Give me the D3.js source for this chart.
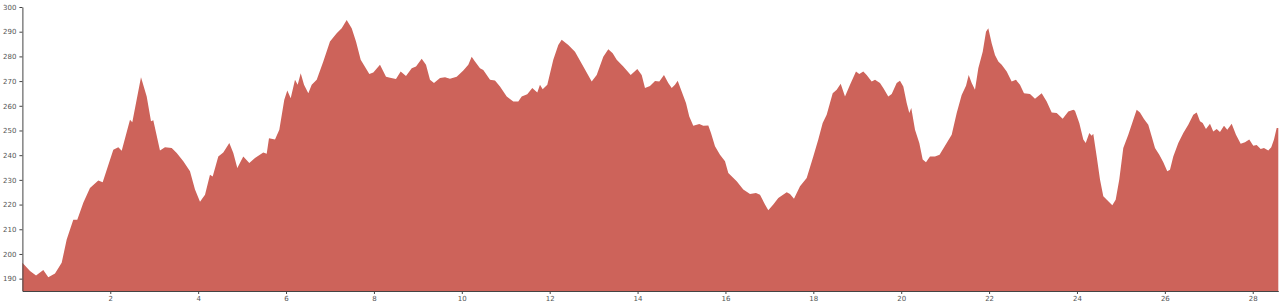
<!DOCTYPE html>
<html>
<head>
<meta charset="utf-8">
<script src="https://cdn.jsdelivr.net/npm/d3@7"></script>
<style>
  body { margin: 0; background: #fff; }
  .axis text { font-family: "DejaVu Sans", sans-serif; font-size: 7px; fill: #555; }
  .axis path, .axis line { stroke: #444; }
</style>
</head>
<body>
<div id="chart"></div>
<script>
// distance along route (x) and elevation (y)
var distance = [
  0, 0.173, 0.31, 0.476, 0.589, 0.742, 0.894, 1.008, 1.158, 1.249, 1.386, 1.538, 1.727, 1.827,
  2.069, 2.183, 2.26, 2.449, 2.501, 2.699, 2.829, 2.927, 2.979, 3.131, 3.245, 3.398, 3.512,
  3.662, 3.814, 3.928, 4.042, 4.156, 4.269, 4.331, 4.458, 4.572, 4.709,
  4.8, 4.891, 5.027, 5.164, 5.293, 5.482, 5.56, 5.612, 5.749, 5.847, 5.96, 6.029, 6.106,
  6.204, 6.265, 6.334, 6.409, 6.507, 6.584, 6.698, 6.848, 7.0, 7.153, 7.267, 7.38, 7.494,
  7.592, 7.699, 7.895, 7.986, 8.138, 8.275, 8.366, 8.502, 8.609, 8.73, 8.86, 8.958, 9.087,
  9.185, 9.276, 9.367, 9.504, 9.618,
  9.731, 9.884, 10.034, 10.148, 10.225, 10.3, 10.414, 10.489, 10.642, 10.755, 10.869, 11.022,
  11.172, 11.286, 11.363, 11.49, 11.604, 11.718, 11.779, 11.841, 11.946, 12.082, 12.196,
  12.273, 12.424, 12.576, 12.765, 12.956, 13.07, 13.22, 13.334, 13.434, 13.525, 13.675,
  13.844, 13.994, 14.094, 14.169, 14.283, 14.397,
  14.495, 14.601, 14.699, 14.777, 14.852, 14.913, 15.004, 15.102, 15.177, 15.268, 15.405,
  15.496, 15.61, 15.671, 15.762, 15.876, 15.99, 16.065, 16.256, 16.406, 16.559, 16.695,
  16.786, 16.9, 16.975, 17.089, 17.203, 17.394, 17.469, 17.56, 17.697, 17.849, 17.999,
  18.113, 18.213, 18.304, 18.441, 18.532, 18.623, 18.721, 18.835, 18.971, 19.046, 19.137,
  19.214, 19.328, 19.404, 19.517, 19.592, 19.706, 19.784, 19.897, 19.972, 20.048, 20.125,
  20.184, 20.229, 20.314, 20.412, 20.489, 20.564, 20.655, 20.769, 20.873, 21.035, 21.149,
  21.263, 21.376, 21.475, 21.536, 21.604, 21.679, 21.755, 21.855, 21.93, 21.982, 22.059,
  22.134, 22.21, 22.287, 22.401, 22.514, 22.612, 22.703, 22.794, 22.931, 23.045, 23.197,
  23.311, 23.425, 23.539, 23.675, 23.803, 23.917,
  23.955, 24.053, 24.144, 24.199, 24.281, 24.335, 24.371, 24.449, 24.524, 24.599, 24.713,
  24.804, 24.881, 24.963, 25.054, 25.168, 25.282, 25.359, 25.434, 25.525, 25.623, 25.701,
  25.776, 25.874, 25.965, 26.055, 26.117, 26.192, 26.306, 26.42, 26.533, 26.647, 26.725,
  26.8, 26.861, 26.936, 27.027, 27.102, 27.18, 27.255, 27.346, 27.421, 27.521, 27.619,
  27.726, 27.824, 27.921, 28.013, 28.09, 28.181, 28.256, 28.354, 28.422, 28.484, 28.545, 28.582
];

var elevation = [
  196.4, 193.1, 191.3, 193.5, 190.6, 192.1, 196.4, 205.9, 213.9, 213.9, 220.7, 226.7, 229.7, 229.0,
  242.2, 243.2, 241.8, 254.3, 253.3, 271.6, 263.8, 253.7, 254.1, 241.9, 243.2, 242.9, 240.9,
  237.5, 233.5, 226.1, 221.1, 224.0, 232.1, 231.4, 239.5, 241.1, 244.9,
  240.9, 234.8, 239.5, 236.8, 238.9, 241.1, 240.6, 246.9, 246.3, 250.3, 262.4, 266.2, 263.1,
  270.5, 268.5, 273.2, 268.5, 265.1, 268.5, 270.5, 277.9, 286.0, 289.4, 291.4, 294.7, 291.4,
  286.0, 278.6, 272.9, 273.5, 276.6, 271.8, 271.4, 270.8, 273.9, 272.1, 275.2, 275.9, 279.0,
  276.6, 270.5, 269.2, 271.2, 271.6,
  270.9, 271.8, 274.3, 276.6, 279.9, 277.9, 275.2, 274.5, 270.5, 270.2, 267.8, 263.8,
  261.7, 261.7, 263.8, 264.7, 267.2, 265.4, 268.5, 266.7, 268.5, 278.6, 284.6,
  286.7, 284.6, 281.9, 275.9, 269.8, 272.5, 279.9, 282.9, 281.3, 278.6, 275.9,
  272.5, 274.9, 272.5, 267.2, 268.0, 270.0,
  269.8, 272.5, 269.2, 267.2, 268.5, 270.1, 265.8, 261.1, 255.7, 251.9, 252.6,
  251.9, 252.0, 249.0, 243.6, 240.2, 237.5, 232.8, 229.4, 226.1, 224.3, 224.7,
  224.0, 220.0, 217.7, 220.0, 222.7, 225.0, 224.3, 222.4, 227.4, 230.8, 239.5,
  246.3, 253.0, 256.4, 265.1, 266.5, 268.9, 263.8, 268.5, 273.9, 272.9, 273.9,
  272.5, 269.8, 270.5, 269.2, 267.2, 263.8, 264.8, 269.2, 270.1, 267.8, 261.1,
  257.1, 259.1, 250.3, 244.9, 238.2, 237.1, 239.5, 239.5, 240.2, 244.9, 248.3,
  257.1, 264.4, 268.1, 272.5, 269.2, 266.5, 275.2, 281.9, 290.0, 291.4, 285.3,
  280.6, 277.9, 276.6, 273.9, 269.8, 270.5, 268.5, 265.1, 264.8, 262.8, 265.1,
  261.7, 257.3, 257.1, 254.7, 257.7, 258.4,
  258.0, 253.0, 246.3, 244.9, 249.0, 247.9, 248.7, 239.5, 230.1, 223.4, 221.3,
  219.7, 222.0, 230.1, 242.9, 248.3, 254.3, 258.4, 257.3, 254.6, 252.3, 247.6,
  242.9, 240.2, 237.1, 233.5, 234.1, 239.5, 244.9, 249.0, 252.3, 256.4, 257.3,
  253.7, 253.0, 250.6, 252.7, 249.6, 250.6, 249.4, 251.9, 250.3, 252.7, 248.3,
  244.6, 245.2, 246.3, 243.8, 244.1, 242.5, 242.9, 241.9, 243.2, 246.3, 251.0, 251.0
];

var yTicks = d3.range(190, 301, 10);
var xTicks = d3.range(2, 29, 2);

var margin = {top: 7, right: 2.7, bottom: 15, left: 22.4},
    width = 1281 - margin.left - margin.right,
    height = 306 - margin.top - margin.bottom;

var data = distance.map(function (d, i) { return {d: d, e: elevation[i]}; });

var svg = d3.select('#chart')
    .append('svg')
    .attr('width', 1281)
    .attr('height', 306)
  .append('g')
    .attr('transform', 'translate(' + margin.left + ',' + margin.top + ')');

var x = d3.scaleLinear()
    .domain(d3.extent(distance))
    .range([0, width]);

var y = d3.scaleLinear()
    .domain([185, 300])
    .range([height, 0]);

var area = d3.area()
    .x(function (d) { return x(d.d); })
    .y0(height)
    .y1(function (d) { return y(d.e); });

svg.append('path')
    .datum(data)
    .attr('fill', '#cd635a')
    .attr('d', area);

svg.append('g')
    .attr('class', 'axis')
    .attr('transform', 'translate(0,' + height + ')')
    .call(d3.axisBottom(x).tickValues(xTicks).tickSize(3).tickPadding(2).tickSizeOuter(0));

svg.append('g')
    .attr('class', 'axis')
    .call(d3.axisLeft(y).tickValues(yTicks).tickSize(3).tickPadding(3).tickSizeOuter(0));
</script>
</body>
</html>
